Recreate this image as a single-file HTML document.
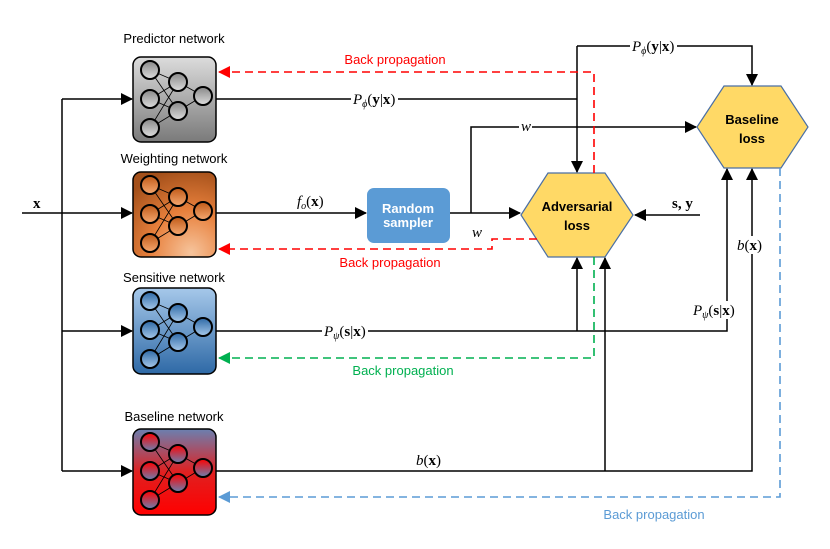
<!DOCTYPE html>
<html><head><meta charset="utf-8"><style>
html,body{margin:0;padding:0;background:#fff;}
svg{display:block;}
.lab{font-family:"Liberation Sans",sans-serif;font-size:13px;}
.m{font-family:"Liberation Serif",serif;font-size:15px;}
</style></head><body>
<svg width="830" height="549" viewBox="0 0 830 549" xmlns="http://www.w3.org/2000/svg">
<defs>
<linearGradient id="gp" x1="0" y1="0" x2="0" y2="1"><stop offset="0" stop-color="#dcdcdc"/><stop offset="1" stop-color="#7a7a7a"/></linearGradient>
<radialGradient id="gw" cx="0.7" cy="0.95" r="1"><stop offset="0" stop-color="#f6c49c"/><stop offset="0.5" stop-color="#e8803c"/><stop offset="1" stop-color="#a4501a"/></radialGradient>
<linearGradient id="gs" x1="0" y1="0" x2="0" y2="1"><stop offset="0" stop-color="#a6c8ea"/><stop offset="1" stop-color="#2e69a6"/></linearGradient>
<linearGradient id="gb" x1="0" y1="0" x2="0" y2="1"><stop offset="0" stop-color="#6b80b0"/><stop offset="0.5" stop-color="#e02020"/><stop offset="1" stop-color="#ff0000"/></linearGradient>
<linearGradient id="cp" x1="0" y1="0" x2="0" y2="1"><stop offset="0" stop-color="#888"/><stop offset="1" stop-color="#ddd"/></linearGradient>
<linearGradient id="cw" x1="0" y1="0" x2="0" y2="1"><stop offset="0" stop-color="#c05a18"/><stop offset="1" stop-color="#f5a870"/></linearGradient>
<linearGradient id="cs" x1="0" y1="0" x2="0" y2="1"><stop offset="0" stop-color="#2e69a6"/><stop offset="1" stop-color="#a6c8ea"/></linearGradient>
<linearGradient id="cb" x1="0" y1="0" x2="0" y2="1"><stop offset="0" stop-color="#ff0000"/><stop offset="1" stop-color="#6b80b0"/></linearGradient>
<marker id="ab" markerWidth="12" markerHeight="12" refX="11" refY="6" orient="auto" markerUnits="userSpaceOnUse"><path d="M0,0 L12,6 L0,12 z" fill="#000"/></marker>
<marker id="ar" markerWidth="12" markerHeight="12" refX="11" refY="6" orient="auto" markerUnits="userSpaceOnUse"><path d="M0,0 L12,6 L0,12 z" fill="#f00"/></marker>
<marker id="ag" markerWidth="12" markerHeight="12" refX="11" refY="6" orient="auto" markerUnits="userSpaceOnUse"><path d="M0,0 L12,6 L0,12 z" fill="#00b050"/></marker>
<marker id="al" markerWidth="12" markerHeight="12" refX="11" refY="6" orient="auto" markerUnits="userSpaceOnUse"><path d="M0,0 L12,6 L0,12 z" fill="#5b9bd5"/></marker>
<g id="wires" stroke="#000" stroke-width="0.8" fill="none">
<path d="M17,13 L45,25 M17,13 L45,54 M17,42 L45,25 M17,42 L45,54 M17,71 L45,25 M17,71 L45,54 M45,25 L70,39 M45,54 L70,39"/>
</g>
</defs>

<g transform="translate(133,57)"><rect width="83" height="85" rx="8" fill="url(#gp)" stroke="#000" stroke-width="1.5"/><use href="#wires"/>
<g fill="url(#cp)" stroke="#000" stroke-width="2"><circle cx="17" cy="13" r="9"/><circle cx="17" cy="42" r="9"/><circle cx="17" cy="71" r="9"/><circle cx="45" cy="25" r="9"/><circle cx="45" cy="54" r="9"/><circle cx="70" cy="39" r="9"/></g></g>
<g transform="translate(133,172)"><rect width="83" height="85" rx="8" fill="url(#gw)" stroke="#000" stroke-width="1.5"/><use href="#wires"/>
<g fill="url(#cw)" stroke="#000" stroke-width="2"><circle cx="17" cy="13" r="9"/><circle cx="17" cy="42" r="9"/><circle cx="17" cy="71" r="9"/><circle cx="45" cy="25" r="9"/><circle cx="45" cy="54" r="9"/><circle cx="70" cy="39" r="9"/></g></g>
<g transform="translate(133,288)"><rect width="83" height="86" rx="8" fill="url(#gs)" stroke="#000" stroke-width="1.5"/><use href="#wires"/>
<g fill="url(#cs)" stroke="#000" stroke-width="2"><circle cx="17" cy="13" r="9"/><circle cx="17" cy="42" r="9"/><circle cx="17" cy="71" r="9"/><circle cx="45" cy="25" r="9"/><circle cx="45" cy="54" r="9"/><circle cx="70" cy="39" r="9"/></g></g>
<g transform="translate(133,429)"><rect width="83" height="86" rx="8" fill="url(#gb)" stroke="#000" stroke-width="1.5"/><use href="#wires"/>
<g fill="url(#cb)" stroke="#000" stroke-width="2"><circle cx="17" cy="13" r="9"/><circle cx="17" cy="42" r="9"/><circle cx="17" cy="71" r="9"/><circle cx="45" cy="25" r="9"/><circle cx="45" cy="54" r="9"/><circle cx="70" cy="39" r="9"/></g></g>

<text class="lab" x="174" y="43" text-anchor="middle" font-size="13.5">Predictor network</text>
<text class="lab" x="174" y="163" text-anchor="middle" font-size="13.5">Weighting network</text>
<text class="lab" x="174" y="282" text-anchor="middle" font-size="13.5">Sensitive network</text>
<text class="lab" x="174" y="421" text-anchor="middle" font-size="13.5">Baseline network</text>

<rect x="367" y="188" width="83" height="55" rx="7" fill="#5b9bd5"/>
<text class="lab" x="408" y="213" text-anchor="middle" fill="#fff" font-size="10" font-weight="bold">Random</text>
<text class="lab" x="408" y="227" text-anchor="middle" fill="#fff" font-size="10" font-weight="bold">sampler</text>

<polygon points="521,215 548,173 605,173 633,215 605,257 548,257" fill="#ffd966" stroke="#4a6fa5" stroke-width="1.2"/>
<text class="lab" x="577" y="211" text-anchor="middle" font-weight="bold" font-size="14">Adversarial</text>
<text class="lab" x="577" y="230" text-anchor="middle" font-weight="bold" font-size="14">loss</text>
<polygon points="697,127 724,86 781,86 808,127 781,168 724,168" fill="#ffd966" stroke="#4a6fa5" stroke-width="1.2"/>
<text class="lab" x="752" y="124" text-anchor="middle" font-weight="bold" font-size="14">Baseline</text>
<text class="lab" x="752" y="143" text-anchor="middle" font-weight="bold" font-size="14">loss</text>

<g stroke="#000" stroke-width="1.5" fill="none">
<path d="M22,213 L132,213" marker-end="url(#ab)"/>
<path d="M62,99 L62,471"/>
<path d="M62,99 L132,99" marker-end="url(#ab)"/>
<path d="M62,331 L132,331" marker-end="url(#ab)"/>
<path d="M62,471 L132,471" marker-end="url(#ab)"/>
<path d="M216,99 L577,99"/>
<path d="M577,46 L577,172" marker-end="url(#ab)"/>
<path d="M577,46 L752,46 L752,85" marker-end="url(#ab)"/>
<path d="M216,213 L366,213" marker-end="url(#ab)"/>
<path d="M450,213 L520,213" marker-end="url(#ab)"/>
<path d="M471,213 L471,127 L696,127" marker-end="url(#ab)"/>
<path d="M700,215 L635,215" marker-end="url(#ab)"/>
<path d="M216,331 L727,331 L727,169" marker-end="url(#ab)"/>
<path d="M577,331 L577,258" marker-end="url(#ab)"/>
<path d="M216,471 L752,471 L752,169" marker-end="url(#ab)"/>
<path d="M605,471 L605,258" marker-end="url(#ab)"/>
</g>

<g stroke-width="1.6" fill="none" stroke-dasharray="8,5">
<path d="M594,173 L594,72 L219,72" stroke="#f00" marker-end="url(#ar)"/>
<path d="M537,239 L492,239 L492,249 L219,249" stroke="#f00" marker-end="url(#ar)"/>
<path d="M594,257 L594,358 L219,358" stroke="#00b050" marker-end="url(#ag)"/>
<path d="M780,168 L780,497 L219,497" stroke="#5b9bd5" marker-end="url(#al)"/>
</g>

<g class="lab" font-size="14">
<text x="395" y="64" text-anchor="middle" fill="#f00">Back propagation</text>
<text x="390" y="267" text-anchor="middle" fill="#f00">Back propagation</text>
<text x="403" y="375" text-anchor="middle" fill="#00b050">Back propagation</text>
<text x="654" y="519" text-anchor="middle" fill="#5b9bd5">Back propagation</text>
</g>
<g fill="#fff">
<rect x="351" y="90" width="47" height="18"/>
<rect x="630" y="37" width="47" height="18"/>
<rect x="322" y="322" width="46" height="18"/>
<rect x="691" y="301" width="46" height="18"/>
<rect x="735" y="236" width="29" height="18"/>
<rect x="519" y="119" width="13" height="14"/>
</g>
<g class="m">
<text x="353" y="104"><tspan font-style="italic">P</tspan><tspan font-size="10" font-style="italic" dy="3">ϕ</tspan><tspan dy="-3">(</tspan><tspan font-weight="bold">y</tspan>|<tspan font-weight="bold">x</tspan>)</text>
<text x="632" y="51"><tspan font-style="italic">P</tspan><tspan font-size="10" font-style="italic" dy="3">ϕ</tspan><tspan dy="-3">(</tspan><tspan font-weight="bold">y</tspan>|<tspan font-weight="bold">x</tspan>)</text>
<text x="324" y="336"><tspan font-style="italic">P</tspan><tspan font-size="10" font-style="italic" dy="3">ψ</tspan><tspan dy="-3">(</tspan><tspan font-weight="bold">s</tspan>|<tspan font-weight="bold">x</tspan>)</text>
<text x="693" y="315"><tspan font-style="italic">P</tspan><tspan font-size="10" font-style="italic" dy="3">ψ</tspan><tspan dy="-3">(</tspan><tspan font-weight="bold">s</tspan>|<tspan font-weight="bold">x</tspan>)</text>
<text x="297" y="206"><tspan font-style="italic">f</tspan><tspan font-size="10" font-style="italic" dy="3">o</tspan><tspan dy="-3">(</tspan><tspan font-weight="bold">x</tspan>)</text>
<text x="521" y="131" font-style="italic">w</text>
<text x="472" y="237" font-style="italic">w</text>
<text x="672" y="208" font-weight="bold">s, y</text>
<text x="33" y="208" font-weight="bold">x</text>
<text x="416" y="465"><tspan font-style="italic">b</tspan>(<tspan font-weight="bold">x</tspan>)</text>
<text x="737" y="250"><tspan font-style="italic">b</tspan>(<tspan font-weight="bold">x</tspan>)</text>
</g>
</svg>
</body></html>
